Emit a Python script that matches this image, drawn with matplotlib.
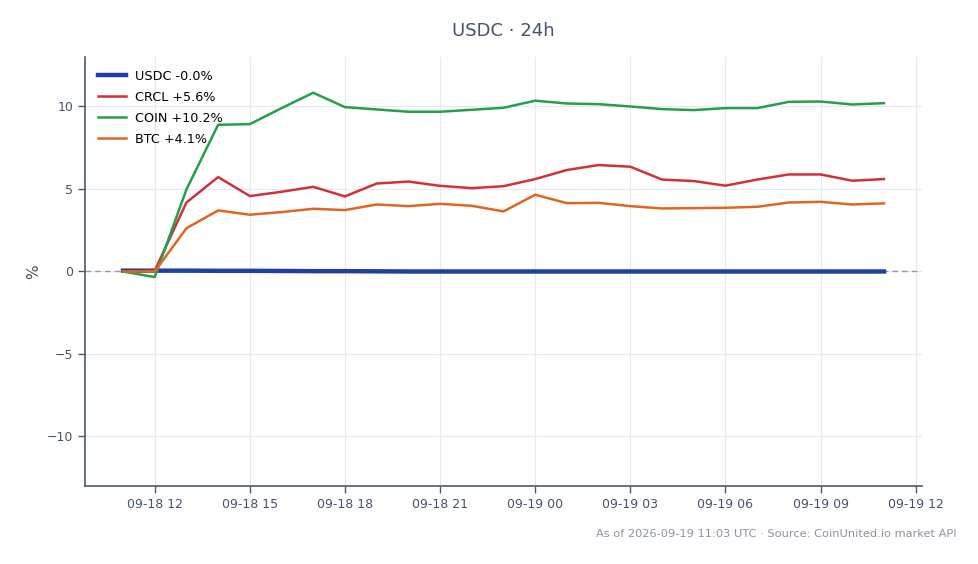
import matplotlib
matplotlib.use("Agg")
import matplotlib.pyplot as plt
import matplotlib.dates as mdates
import pandas as pd

times = pd.date_range("2026-09-18 11:00", "2026-09-19 11:00", freq="h")

usdc = [0.05, 0.05, 0.05, 0.04, 0.04, 0.03, 0.02, 0.02, 0.01, 0.0, 0.0, 0.0, 0.0,
        0.0, 0.0, 0.0, 0.0, 0.0, 0.0, 0.0, 0.0, 0.0, 0.0, 0.0, 0.0]
crcl = [0.0, 0.05, 4.18, 5.72, 4.57, 4.83, 5.13, 4.55, 5.33, 5.45, 5.19, 5.05, 5.17,
        5.6, 6.15, 6.45, 6.35, 5.57, 5.48, 5.2, 5.57, 5.88, 5.88, 5.5, 5.6]
coin = [0.0, -0.34, 4.97, 8.89, 8.93, 9.9, 10.83, 9.96, 9.82, 9.68, 9.68, 9.8, 9.92,
        10.35, 10.18, 10.14, 10.0, 9.84, 9.78, 9.9, 9.9, 10.28, 10.3, 10.12, 10.2]
btc = [0.0, 0.0, 2.62, 3.7, 3.44, 3.6, 3.8, 3.72, 4.06, 3.96, 4.1, 3.98, 3.64,
       4.65, 4.14, 4.16, 3.96, 3.82, 3.84, 3.86, 3.92, 4.18, 4.22, 4.06, 4.13]

series_names = ["USDC", "CRCL", "COIN", "BTC"]
series_vals = [usdc, crcl, coin, btc]
legend_labels = ["USDC -0.0%", "CRCL +5.6%", "COIN +10.2%", "BTC +4.1%"]
colors = ["#1f3fa3", "#d0313a", "#23a04b", "#e0661f"]
widths = [3.2, 1.8, 1.8, 1.8]

title = "USDC · 24h"
footer = "As of 2026-09-19 11:03 UTC · Source: CoinUnited.io market API"

text_col = "#44546a"
spine_col = "#4a5a6b"

fig = plt.figure(figsize=(9.79, 5.64), dpi=100)
ax = fig.add_axes([0.0868, 0.1383, 0.855, 0.7607])

ax.axhline(0, color="#8e9bb0", lw=1.0, ls=(0, (4, 3)), zorder=1)
for i, (vals, lab, c, w) in enumerate(zip(series_vals, legend_labels, colors, widths)):
    ax.plot(times, vals, color=c, lw=w, label=lab, zorder=2 + i)

ax.set_ylim(-13, 13)
ax.set_yticks([-10, -5, 0, 5, 10])
ax.set_yticklabels(["\u221210", "\u22125", "0", "5", "10"])
ax.xaxis.set_major_locator(mdates.HourLocator(byhour=[0, 3, 6, 9, 12, 15, 18, 21]))
ax.xaxis.set_major_formatter(mdates.DateFormatter("%m-%d %H"))
ax.grid(True, color="#e6e9ef", lw=0.8)
ax.set_axisbelow(True)
for s in ["top", "right"]:
    ax.spines[s].set_visible(False)
for s in ["left", "bottom"]:
    ax.spines[s].set_color(spine_col)
    ax.spines[s].set_linewidth(1.2)
ax.tick_params(colors=spine_col, labelcolor=text_col, labelsize=9, length=5, width=1)
ax.set_ylabel("%", color=text_col, fontsize=11, labelpad=4)

leg = ax.legend(loc="upper left", frameon=False, fontsize=9.2, handlelength=2.2,
                handletextpad=0.75, borderaxespad=0.4, labelspacing=0.62,
                borderpad=0.6)

fig.text(0.5145, 0.945, title, ha="center", va="center", fontsize=13, color=text_col)
fig.text(0.977, 0.053, footer, ha="right", va="center", fontsize=8.2, color="#8a94a3")

fig.savefig("out.png", dpi=100)
